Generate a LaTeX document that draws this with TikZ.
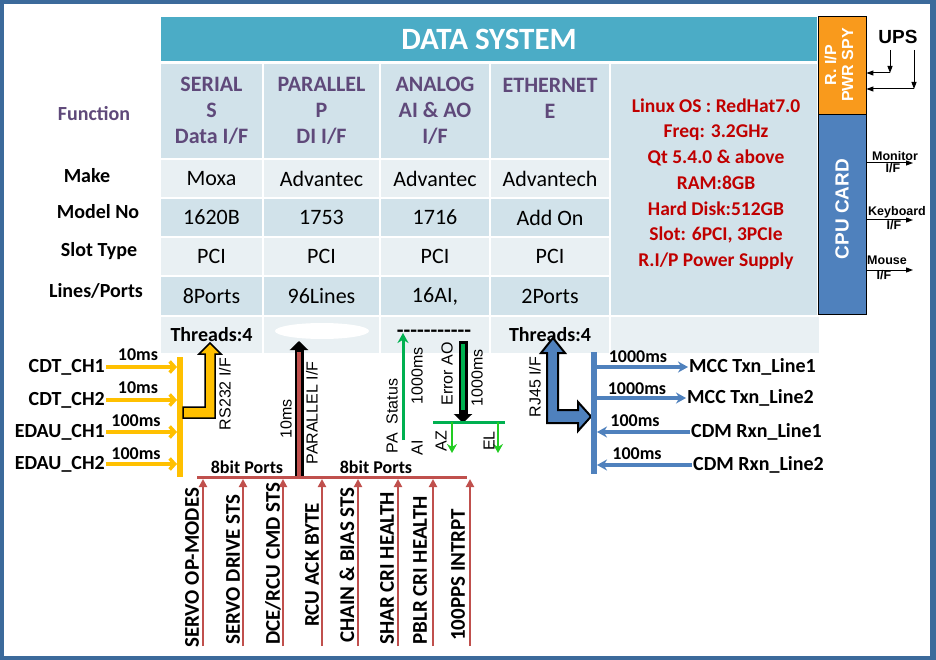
\documentclass[tikz,border=0pt]{standalone}
\usepackage{fontspec}
\setmainfont{Carlito}
\newfontfamily\arf{Liberation Sans}
\usetikzlibrary{arrows.meta}
\definecolor{frameblue}{HTML}{3C6A9B}
\definecolor{teal}{HTML}{4BACC6}
\definecolor{rowdark}{HTML}{D1E2EA}
\definecolor{rowlight}{HTML}{E9F0F3}
\definecolor{purp}{HTML}{5F497A}
\definecolor{redt}{HTML}{C00000}
\definecolor{orng}{HTML}{F99A1C}
\definecolor{cpub}{HTML}{4F81BD}
\definecolor{yel}{HTML}{FFC000}
\definecolor{rb}{HTML}{C0504D}
\definecolor{grn}{HTML}{00B050}
\definecolor{lgrn}{HTML}{22CC22}
\newcommand\tcell[8][]{%
  \node[cell,fill=#7,minimum width={#5-#3},minimum height={#6-#4},#1] (#2) at ({(#3+#5)/2},{(#4+#6)/2}) {#8};}
\begin{document}
\begin{tikzpicture}[x=1pt,y=-1pt,
  cell/.style={draw=white,line width=1.5pt,inner sep=0pt,align=center,font=\fontsize{22}{26}\selectfont},
  hd/.style={font=\bfseries\fontsize{22}{26}\selectfont,text=purp},
  rlab/.style={font=\bfseries\fontsize{20}{24}\selectfont},
  inl/.style={font=\bfseries\fontsize{20}{24}\selectfont,inner sep=1pt},
  ms/.style={font=\bfseries\fontsize{18}{20}\selectfont,inner sep=0pt},
  vlab/.style={rotate=90,anchor=west,inner sep=0pt,font=\bfseries\fontsize{21}{21}\selectfont},
  alab/.style={rotate=90,inner sep=0pt,font=\arf\fontsize{16}{16}\selectfont},
  yarr/.style={draw=yel,line width=3.5pt,shorten >=3pt,-{Straight Barb[length=5pt,width=11pt]}},
  rarr/.style={draw=rb,line width=2.5pt,-{Triangle[length=8pt,width=8pt]}},
  barr/.style={draw=cpub,line width=3.5pt,-{Stealth[length=10pt,width=11pt]}},
  garr/.style={draw=grn,line width=3pt,-{Stealth[length=10pt,width=11pt]}},
  lgarr/.style={draw=lgrn,line width=2.5pt,-{Stealth[length=9pt,width=10pt]}},
  karr/.style={draw=black,line width=1pt,-{Triangle[length=7pt,width=5pt]}},
  iface/.style={font=\arf\bfseries\fontsize{12.5}{13}\selectfont,inner sep=0pt}
]
\useasboundingbox (0,0) rectangle (936,660);
\fill[frameblue] (0,0) rectangle (936,660);
\fill[white] (4,4) rectangle (930,656);

% ---------- table ----------
\tcell[font=\bfseries\fontsize{31}{34}\selectfont,text=white]{hdr}{160}{16}{818}{62}{teal}{DATA SYSTEM}
\tcell[hd]{f1}{160}{63}{263}{159}{rowdark}{SERIAL\\S\\Data I/F}
\tcell[hd]{f2}{263}{63}{380}{159}{rowdark}{PARALLEL\\P\\DI I/F}
\tcell[hd]{f3}{380}{63}{490}{159}{rowdark}{ANALOG\\AI \& AO\\I/F}
\tcell[hd]{f4}{490}{63}{610}{159}{rowdark}{ETHERNET\\E\\~}
\tcell{spec}{610}{63}{818}{316}{rowdark}{}
\tcell{m1}{160}{159}{263}{198}{rowlight}{Moxa}
\tcell{m2}{263}{159}{380}{198}{rowlight}{Advantec}
\tcell{m3}{380}{159}{490}{198}{rowlight}{Advantec}
\tcell{m4}{490}{159}{610}{198}{rowlight}{Advantech}
\tcell{n1}{160}{198}{263}{237}{rowdark}{1620B}
\tcell{n2}{263}{198}{380}{237}{rowdark}{1753}
\tcell{n3}{380}{198}{490}{237}{rowdark}{1716}
\tcell{n4}{490}{198}{610}{237}{rowdark}{Add On}
\tcell{s1}{160}{237}{263}{276}{rowlight}{PCI}
\tcell{s2}{263}{237}{380}{276}{rowlight}{PCI}
\tcell{s3}{380}{237}{490}{276}{rowlight}{PCI}
\tcell{s4}{490}{237}{610}{276}{rowlight}{PCI}
\tcell{l1}{160}{276}{263}{316}{rowdark}{8Ports}
\tcell{l2}{263}{276}{380}{316}{rowdark}{96Lines}
\tcell{l3}{380}{276}{490}{316}{rowdark}{16AI,}
\tcell{l4}{490}{276}{610}{316}{rowdark}{2Ports}
\tcell[font=\bfseries\fontsize{20}{24}\selectfont]{t1}{160}{316}{263}{354}{rowlight}{Threads:4}
\tcell{t2}{263}{316}{380}{354}{rowlight}{}
\tcell{t3}{380}{316}{490}{354}{rowlight}{}
\tcell[font=\bfseries\fontsize{20}{24}\selectfont]{t4}{490}{316}{610}{354}{rowlight}{Threads:4}
\tcell{t5}{610}{316}{820}{354}{rowlight}{}
\fill[white] (322,331) ellipse [x radius=47, y radius=8];
\node[font=\bfseries\fontsize{22}{24}\selectfont,inner sep=0pt] (dash) at (434,334) {-{}-{}-{}-{}-{}-{}-{}-{}-{}-{}-};

\node[font=\bfseries\fontsize{19.5}{25.7}\selectfont,text=redt,align=center] (spectxt) at (716,184)
  {Linux OS : RedHat7.0\\Freq: 3.2GHz\\Qt 5.4.0 \& above\\RAM:8GB\\Hard Disk:512GB\\Slot: 6PCI, 3PCIe\\R.I/P Power Supply};

% row labels
\node[rlab,text=purp] (lfun) at (94,114) {Function};
\node[rlab] (lmake) at (87,176) {Make};
\node[rlab] (lmodel) at (98,212) {Model No};
\node[rlab] (lslot) at (99,251) {Slot Type};
\node[rlab] (llines) at (96,291) {Lines/Ports};

% ---------- right side boxes ----------
\node[draw=black,line width=0.8pt,fill=orng,minimum width=48,minimum height=98,inner sep=0pt] (rip) at (842,65.5) {};
\node[rotate=90,text=white,align=center,font=\arf\bfseries\fontsize{16}{17}\selectfont] (riptxt) at (839,65) {R. I/P\\PWR SPY};
\node[draw=black,line width=0.8pt,fill=cpub,minimum width=48,minimum height=200,inner sep=0pt] (cpu) at (842,214.5) {};
\node[rotate=90,text=white,font=\arf\bfseries\fontsize{19}{20}\selectfont] (cputxt) at (842,209) {CPU CARD};

\node[font=\arf\bfseries\fontsize{19}{20}\selectfont] (ups) at (898,37) {UPS};
\coordinate (u1t) at (890,50); \coordinate (u1b) at (890,73);
\coordinate (u2t) at (914,50); \coordinate (u2b) at (914,89);
\draw[karr] (u1t) -- (u1b);
\draw[karr] (u1b) -- (u1b -| rip.east);
\draw[karr] (u2t) -- (u2b);
\draw[karr] (u2b) -- (u2b -| rip.east);

\coordinate (mon) at (913,163); \coordinate (kbd) at (913,220); \coordinate (mou) at (913,270);
\draw[karr] (mon -| cpu.east) -- (mon);
\draw[karr] (kbd -| cpu.east) -- (kbd);
\draw[karr] (mou -| cpu.east) -- (mou);
\node[iface] (mont) at (895,156) {Monitor};
\node[iface] (monf) at (893,168) {I/F};
\node[iface] (kbdt) at (897,212) {Keyboard};
\node[iface] (kbdf) at (894,225) {I/F};
\node[iface] (mout) at (887,260) {Mouse};
\node[iface] (mouf) at (884,275) {I/F};

% ---------- serial ----------
\coordinate (sbt) at (180,357); \coordinate (sbb) at (180,477);
\draw[yel,line width=6pt] (sbt) -- (sbb);
\node[inl,anchor=east] (cdt1) at (106,367) {CDT\_CH1};
\node[inl,anchor=east] (cdt2) at (106,400) {CDT\_CH2};
\node[inl,anchor=east] (edau1) at (106,432) {EDAU\_CH1};
\node[inl,anchor=east] (edau2) at (106,464) {EDAU\_CH2};
\foreach \n in {cdt1,cdt2,edau1,edau2} \draw[yarr] (\n.east) -- (\n.east -| sbt);
\node[ms] (ms1) at (138,355) {10ms};
\node[ms] (ms2) at (138,388) {10ms};
\node[ms] (ms3) at (136,421) {100ms};
\node[ms] (ms4) at (136,454) {100ms};
\draw[fill=yel,draw=black,line width=1.5pt,line join=miter]
  (183,407) -- (205,407) -- (205,354) -- (199,354) -- (210,343) -- (221,354) -- (215,354) -- (215,418) -- (183,418) -- cycle;
\node[alab] (rs232) at (225,394) {RS232 I/F};

% ---------- parallel ----------
\coordinate (pb) at (299,477); \coordinate (pt) at (299,341); \coordinate (pti) at (299,352);
\draw[black,line width=9pt,-{Triangle[length=9pt,width=18pt]}] (pb) -- (pt);
\draw[rb,line width=4pt] (pb) -- (pti);
\node[alab] (p10) at (286,419) {10ms};
\node[alab] (pif) at (312,413) {PARALLEL I/F};
\coordinate (busl) at (197,477); \coordinate (busr) at (467,477);
\draw[rb,line width=3pt] (busl) -- (busr);
\node[ms] (b8a) at (247,467) {8bit Ports};
\node[ms] (b8b) at (376,467) {8bit Ports};
\foreach \i/\x in {1/203,2/243,3/283,4/322,5/358,6/398,7/433,8/470} {
  \coordinate (ib\i) at (\x,646); \coordinate (it\i) at (\x,479);
  \draw[rarr] (ib\i) -- (it\i);
}
\node[vlab] (v1) at (192,648) {SERVO OP-MODES};
\node[vlab] (v2) at (233,645) {SERVO DRIVE STS};
\node[vlab] (v3) at (273,645) {DCE/RCU CMD STS};
\node[vlab] (v4) at (312,627) {RCU ACK BYTE};
\node[vlab] (v5) at (347,643) {CHAIN \& BIAS STS};
\node[vlab] (v6) at (387,645) {SHAR CRI HEALTH};
\node[vlab] (v7) at (420,645) {PBLR CRI HEALTH};
\node[vlab] (v8) at (458,641) {100PPS INTRPT};

% ---------- analog ----------
\coordinate (pab) at (403,440); \coordinate (pat) at (403,333);
\draw[garr] (pab) -- (pat);
\node[alab] (pas) at (392,416) {PA\ \ Status};
\node[alab] (ai) at (417,448) {AI};
\node[alab] (ms5) at (417,376) {1000ms};
\coordinate (aot) at (463,341); \coordinate (aob) at (463,423); \coordinate (aoi) at (463,410); \coordinate (aos) at (463,344);
\draw[black,line width=9pt,-{Triangle[length=9pt,width=18pt]}] (aot) -- (aob);
\draw[grn,line width=4pt] (aos) -- (aoi);
\node[alab] (erao) at (447,374) {Error AO};
\node[alab] (ms6) at (477,378) {1000ms};
\coordinate (gbl) at (433,422); \coordinate (gbr) at (505,422);
\draw[grn,line width=3pt] (gbl) -- (gbr);
\coordinate (azt) at (452,422); \coordinate (azb) at (452,453);
\coordinate (elt) at (498,422); \coordinate (elb) at (498,453);
\draw[lgarr] (azt) -- (azb);
\draw[lgarr] (elt) -- (elb);
\node[alab] (az) at (441,441) {AZ};
\node[alab] (el) at (489,441) {EL};

% ---------- ethernet ----------
\draw[fill=cpub,draw=black,line width=2pt,line join=miter]
  (547,353) -- (541,353) -- (553,338) -- (565,353) -- (558,353) -- (558,410) -- (578,410) -- (578,402)
  -- (591,416.5) -- (578,431) -- (578,423) -- (547,423) -- cycle;
\node[alab] (rj45) at (535,387) {RJ45 I/F};
\coordinate (ebt) at (594,352); \coordinate (ebb) at (594,474);
\draw[cpub,line width=6pt] (ebt) -- (ebb);
\node[inl,anchor=west] (mcc1) at (688,367) {MCC Txn\_Line1};
\node[inl,anchor=west] (mcc2) at (686,398) {MCC Txn\_Line2};
\node[inl,anchor=west] (cdm1) at (690,432) {CDM Rxn\_Line1};
\node[inl,anchor=west] (cdm2) at (692,465) {CDM Rxn\_Line2};
\draw[barr,shorten <=3pt] (mcc1.west -| ebt) -- (mcc1.west);
\draw[barr,shorten <=3pt] (mcc2.west -| ebt) -- (mcc2.west);
\draw[barr,shorten >=3pt] (cdm1.west) -- (cdm1.west -| ebt);
\draw[barr,shorten >=3pt] (cdm2.west) -- (cdm2.west -| ebt);
\node[ms] (ms7) at (638,357) {1000ms};
\node[ms] (ms8) at (637,389) {1000ms};
\node[ms] (ms9) at (635,421) {100ms};
\node[ms] (ms10) at (637,454) {100ms};
\end{tikzpicture}
\end{document}
